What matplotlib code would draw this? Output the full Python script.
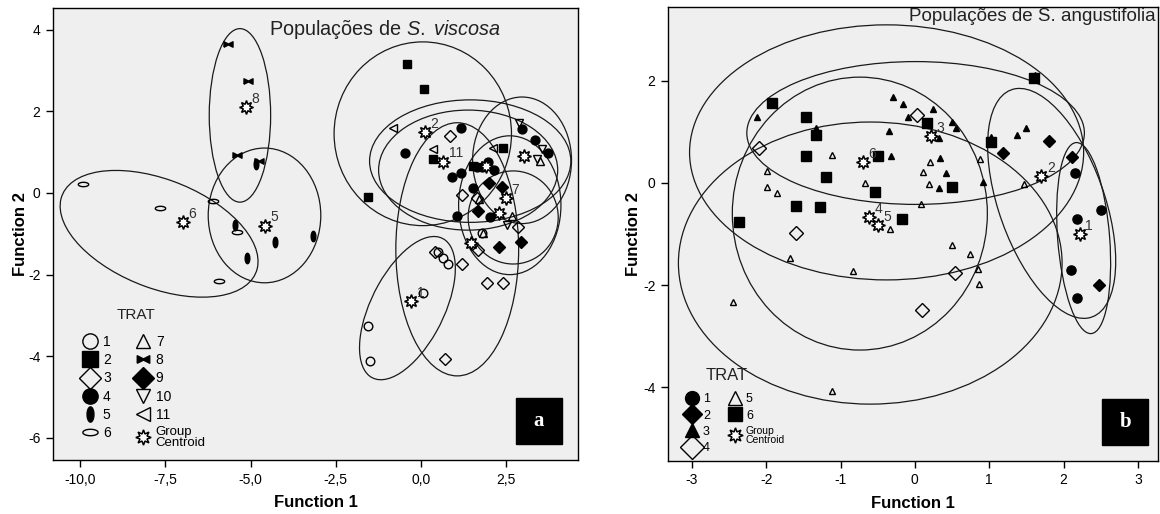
import numpy as np
import matplotlib
matplotlib.use("Agg")
import matplotlib.pyplot as plt
from matplotlib.patches import Ellipse, Rectangle
from matplotlib.lines import Line2D

plt.rcParams['font.family'] = ['Liberation Sans', 'DejaVu Sans']
plt.rcParams['axes.unicode_minus'] = False
plt.rcParams['mathtext.fontset'] = 'custom'
plt.rcParams['mathtext.it'] = 'Liberation Sans:italic'
plt.rcParams['mathtext.rm'] = 'Liberation Sans'

# ---------------- panel a data (S. viscosa) ----------------
a_groups = ['1', '2', '3', '4', '5', '6', '7', '8', '9', '10', '11']
a_x = {
    '1': [-1.55, -1.5, 0.06, 0.5, 0.65, 0.8, 1.8],
    '2': [-0.41, 0.09, -1.55, 0.35, 2.4, 1.52],
    '3': [0.7, 1.2, 1.93, 2.4, 0.41, 0.85, 1.2, 1.64, 1.67, 2.84],
    '4': [-0.47, 1.17, 0.9, 1.17, 1.05, 3.34, 3.72, 2.96, 1.52, 2.02, 2.14, 1.64, 1.78, 1.97],
    '5': [-4.84, -5.45, -4.28, -5.1, -3.17],
    '6': [-9.91, -7.65, -6.1, -5.4, -5.92],
    '7': [2.67, 3.49, 1.7, 1.82],
    '8': [-5.66, -5.07, -5.4, -4.75],
    '9': [2.0, 2.38, 1.67, 2.29, 2.93],
    '10': [2.87, 3.55, 3.4, 2.52],
    '11': [-0.82, 0.35, 2.1],
}
a_y = {
    '1': [-3.26, -4.12, -2.45, -1.45, -1.6, -1.75, -0.98],
    '2': [3.16, 2.55, -0.1, 0.83, 1.1, 0.66],
    '3': [-4.07, -1.73, -2.2, -2.2, -1.45, 1.4, -0.05, -0.12, -1.4, -0.84],
    '4': [0.98, 1.59, 0.4, 0.5, -0.56, 1.3, 0.97, 1.57, 0.12, -0.6, 0.56, 0.64, 0.64, 0.76],
    '5': [0.71, -0.78, -1.2, -1.6, -1.05],
    '6': [0.22, -0.37, -0.2, -0.96, -2.16],
    '7': [-0.56, 0.78, -0.15, -0.98],
    '8': [3.65, 2.74, 0.93, 0.78],
    '9': [0.25, 0.15, -0.44, -1.32, -1.2],
    '10': [1.72, 1.08, 0.83, -0.78],
    '11': [1.59, 1.08, 1.1],
}
a_cent_x = [-0.29, 0.12, 1.47, 1.9, -4.57, -6.98, 2.49, -5.13, 2.29, 3.02, 0.65]
a_cent_y = [-2.65, 1.5, -1.23, 0.65, -0.8, -0.71, -0.12, 2.11, -0.49, 0.9, 0.77]
a_cent_lab = ['1', '2', '', '', '5', '6', '7', '8', '', '', '11']
# ellipse: centre x, centre y, width, height, angle
a_ell_cx = [-0.4, 0.05, 1.06, 1.44, -4.59, -7.68, 2.6, -5.31, 2.7, 2.96, 1.38]
a_ell_cy = [-2.82, 1.45, -1.38, 0.78, -0.55, -1.0, -0.3, 1.9, -0.6, 0.8, 0.56]
a_ell_w = [4.0, 5.2, 3.6, 5.9, 3.3, 6.0, 3.0, 1.8, 2.64, 2.9, 5.25]
a_ell_h = [2.05, 4.5, 6.2, 3.0, 3.3, 2.7, 3.4, 4.25, 2.28, 3.1, 2.94]
a_ell_ang = [56, 0, 0, 0, 0, -16.6, 0, 0, 0, 0, 0]

a_xticks = [-10, -7.5, -5, -2.5, 0, 2.5]
a_xticklabels = ['-10,0', '-7,5', '-5,0', '-2,5', '0,0', '2,5']
a_yticks = [4, 2, 0, -2, -4, -6]

# ---------------- panel b data (S. angustifolia) ----------------
b_groups = ['1', '2', '3', '4', '5', '6']
b_x = {
    '1': [2.15, 2.5, 2.18, 2.1, 2.18],
    '2': [1.8, 1.18, 2.12, 2.47],
    '3': [-2.12, -1.33, -0.3, -0.16, -0.09, 0.24, 0.5, 0.56, -0.35, -0.32, 0.32, 0.34,
          0.42, 0.32, 0.91, 1.37, 1.5, 1.61, 1.03],
    '4': [-2.1, -1.6, 0.03, 0.54, 0.09],
    '5': [-1.12, -1.99, -1.99, -1.85, -0.67, -0.34, 0.21, 0.11, 0.19, 0.08, 0.87, 1.47,
          0.5, 0.74, 0.85, 0.86, -1.68, -0.83, -2.45, -1.12],
    '6': [-1.92, -1.46, -1.33, -1.47, -1.2, -1.6, -1.28, -2.37, -0.5, -0.54, 0.17, 0.5,
          -0.17, 1.02, 1.6],
}
b_y = {
    '1': [0.2, -0.53, -0.71, -1.71, -2.25],
    '2': [0.82, 0.59, 0.51, -2.0],
    '3': [1.29, 1.08, 1.69, 1.55, 1.29, 1.45, 1.19, 1.08, 1.02, 0.53, 0.88, 0.49,
          0.2, -0.1, 0.02, 0.94, 1.08, 2.12, 0.9],
    '4': [0.69, -0.98, 1.33, -1.77, -2.49],
    '5': [0.55, 0.24, -0.08, -0.2, 0.0, -0.9, 0.41, 0.22, -0.02, -0.41, 0.47, -0.02,
          -1.22, -1.4, -1.69, -1.98, -1.48, -1.72, -2.34, -4.08],
    '6': [1.57, 1.29, 0.94, 0.53, 0.12, -0.45, -0.47, -0.76, 0.53, -0.18, 1.18, -0.08,
          -0.71, 0.8, 2.05],
}
b_cent_x = [2.22, 1.7, 0.22, -0.62, -0.5, -0.7]
b_cent_y = [-1.0, 0.14, 0.92, -0.67, -0.82, 0.41]
b_cent_lab = ['1', '2', '3', '4', '5', '6']
b_ell_cx = [2.27, 1.84, 0.01, -0.74, -0.6, -0.38]
b_ell_cy = [-1.08, -0.4, 0.98, -0.6, -1.57, 0.6]
b_ell_w = [0.7, 4.6, 4.54, 3.43, 5.16, 5.3]
b_ell_h = [3.75, 1.46, 2.8, 5.35, 5.53, 5.0]
b_ell_ang = [3, -77.9, 0, 0, 0, 0]

b_xticks = [-3, -2, -1, 0, 1, 2, 3]
b_yticks = [2, 0, -2, -4]

# ---------------- marker shapes ----------------
t = np.linspace(0, 2 * np.pi, 40)
tall_oval = list(zip(0.45 * np.cos(t), np.sin(t)))
flat_oval = list(zip(np.cos(t), 0.42 * np.sin(t)))
bowtie = [(-1, -0.6), (-1, 0.6), (0, 0.1), (1, 0.6), (1, -0.6), (0, -0.1), (-1, -0.6)]
star = (8, 1, 0)

# marker, size on plot, size in legend, face
a_style = {
    '1': ('o', 6.2, 11, 'none'),
    '2': ('s', 6.0, 11, 'black'),
    '3': ('D', 6.2, 11, 'none'),
    '4': ('o', 6.4, 11, 'black'),
    '5': (tall_oval, 7.5, 11, 'black'),
    '6': (flat_oval, 7.5, 11, 'none'),
    '7': ('^', 6.0, 10, 'none'),
    '8': (bowtie, 6.5, 9, 'black'),
    '9': ('D', 6.2, 11, 'black'),
    '10': ('v', 6.0, 10, 'none'),
    '11': ('<', 6.0, 10, 'none'),
}
b_style = {
    '1': ('o', 6.6, 10, 'black'),
    '2': ('D', 6.2, 10, 'black'),
    '3': ('^', 4.8, 10, 'black'),
    '4': ('D', 7.0, 12, 'none'),
    '5': ('^', 4.8, 10, 'none'),
    '6': ('s', 6.6, 10, 'black'),
}
cent_kw = dict(marker=star, mfc='white', mec='black', mew=1.1)

bg = '#efefef'
fig = plt.figure(figsize=(11.6, 5.14), dpi=100)
ax1 = fig.add_axes([53 / 1160, 54 / 514, 525 / 1160, 452 / 514])
ax2 = fig.add_axes([668 / 1160, 53 / 514, 490 / 1160, 454 / 514])


def draw_panel(ax, groups, xs, ys, styles, ccx, ccy, clab, ecx, ecy, ew, eh, ea):
    ax.set_facecolor(bg)
    for i in range(len(ecx)):
        ax.add_patch(Ellipse((ecx[i], ecy[i]), ew[i], eh[i], angle=ea[i],
                             fill=False, ec='#1a1a1a', lw=0.9, zorder=2))
    for g in groups:
        mk, ms, _, fc = styles[g]
        ax.plot(xs[g], ys[g], ls='none', marker=mk, ms=ms, mfc=fc, mec='black',
                mew=1.0, zorder=3)
    ax.plot(ccx, ccy, ls='none', ms=10, zorder=4, **cent_kw)
    for x, y, lab in zip(ccx, ccy, clab):
        if lab:
            ax.annotate(lab, (x, y), xytext=(4, 3), textcoords='offset points',
                        fontsize=10, color='#333333', zorder=5)
    for s in ax.spines.values():
        s.set_linewidth(1.0)
    ax.tick_params(direction='out', length=5, width=1, labelsize=10, pad=4)
    ax.set_xlabel('Function 1', fontsize=12, fontweight='bold')
    ax.set_ylabel('Function 2', fontsize=12, fontweight='bold')


def make_legend(ax, groups, styles, anchor, fs, pad, colsp, lsp, title_xy, title_fs, cfs):
    hs = []
    for g in groups:
        mk, _, lms, fc = styles[g]
        hs.append(Line2D([], [], ls='none', marker=mk, ms=lms, mfc=fc, mec='black', mew=1.0))
    hs.append(Line2D([], [], ls='none', ms=11, **cent_kw))
    leg = ax.legend(hs, groups + ['Group\nCentroid'], ncol=2, loc='upper left',
                    bbox_to_anchor=anchor, frameon=False, fontsize=fs,
                    handlelength=1.0, handletextpad=pad, labelspacing=lsp,
                    columnspacing=colsp, borderpad=0.0, borderaxespad=0.0)
    leg.get_texts()[-1].set_fontsize(cfs)
    leg.get_texts()[-1].set_linespacing(0.85)
    ax.text(title_xy[0], title_xy[1], 'TRAT', transform=ax.transAxes,
            fontsize=title_fs, ha='center', va='center', color='#222222')
    return leg


draw_panel(ax1, a_groups, a_x, a_y, a_style, a_cent_x, a_cent_y, a_cent_lab,
           a_ell_cx, a_ell_cy, a_ell_w, a_ell_h, a_ell_ang)
ax1.set_xlim(-10.79, 4.6)
ax1.set_ylim(-6.54, 4.53)
ax1.set_xticks(a_xticks)
ax1.set_xticklabels(a_xticklabels)
ax1.set_yticks(a_yticks)
ax1.xaxis.set_label_coords(0.5, -0.078)
ax1.yaxis.set_label_coords(-0.047, 0.5)
ax1.text(0.411, 0.977, 'Populações de $\\mathit{S.}$ $\\mathit{viscosa}$', transform=ax1.transAxes,
         fontsize=14.3, va='top', ha='left', color='#222222')

draw_panel(ax2, b_groups, b_x, b_y, b_style, b_cent_x, b_cent_y, b_cent_lab,
           b_ell_cx, b_ell_cy, b_ell_w, b_ell_h, b_ell_ang)
ax2.set_xlim(-3.32, 3.27)
ax2.set_ylim(-5.45, 3.45)
ax2.set_xticks(b_xticks)
ax2.set_yticks(b_yticks)
ax2.xaxis.set_label_coords(0.5, -0.078)
ax2.yaxis.set_label_coords(-0.055, 0.5)
ax2.text(0.995, 0.997, 'Populações de S. angustifolia', transform=ax2.transAxes,
         fontsize=13.5, va='top', ha='right', color='#222222')

make_legend(ax1, a_groups, a_style, (0.057, 0.277), 10, 0.44, 1.8, 0.31,
            (0.158, 0.321), 11, 9.5)
make_legend(ax2, b_groups, b_style, (0.036, 0.149), 9, 0.38, 1.5, 0.34,
            (0.12, 0.189), 12, 7.5)

# panel letters
for ax, x0, w, letter in [(ax1, 0.881, 0.088, 'a'), (ax2, 0.886, 0.094, 'b')]:
    ax.add_patch(Rectangle((x0, 0.035), w, 0.102, transform=ax.transAxes,
                           color='black', zorder=6))
    ax.text(x0 + w / 2, 0.086, letter, transform=ax.transAxes,
            color='white', fontsize=15, fontweight='bold', family='Liberation Serif',
            ha='center', va='center', zorder=7)

fig.savefig('out.png', dpi=100, facecolor='white')
